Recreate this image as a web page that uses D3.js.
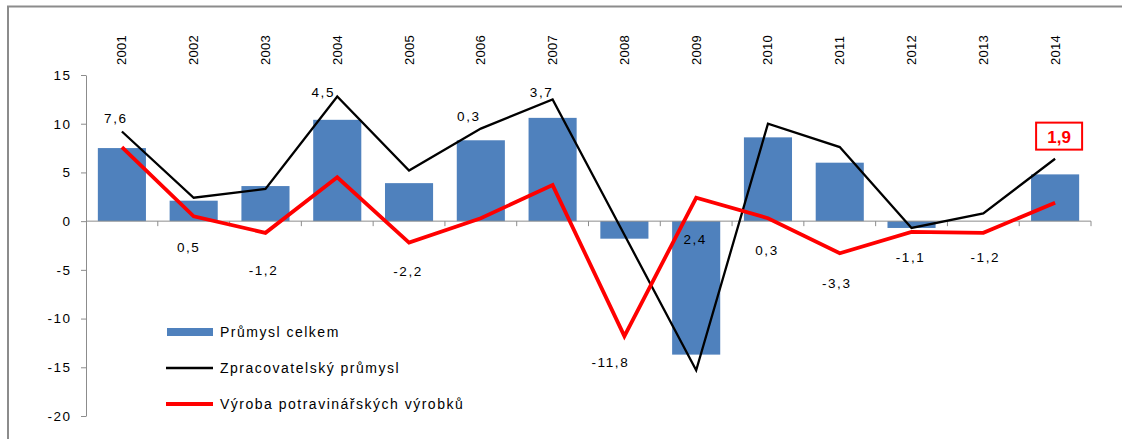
<!DOCTYPE html>
<html>
<head>
<meta charset="utf-8">
<script src="https://cdn.jsdelivr.net/npm/d3@7"></script>
<style>
  html, body { margin: 0; padding: 0; background: #fff; }
  svg { display: block; font-family: "Liberation Sans", Arial, sans-serif; }
</style>
</head>
<body>
<svg id="chart" width="1128" height="439"></svg>
<script>
// ---- data ----
const years = ["2001","2002","2003","2004","2005","2006","2007","2008","2009","2010","2011","2012","2013","2014"];
const prumyslCelkem = [7.5, 2.1, 3.6, 10.4, 3.9, 8.3, 10.6, -1.8, -13.7, 8.6, 6.0, -0.7, 0.0, 4.8];
const zpracovatelsky = [9.2, 2.4, 3.3, 12.8, 5.2, 9.5, 12.5, -1.4, -15.3, 10.0, 7.6, -0.7, 0.8, 6.4];
const potravinarske = [7.6, 0.5, -1.2, 4.5, -2.2, 0.3, 3.7, -11.8, 2.4, 0.3, -3.3, -1.1, -1.2, 1.9];
const yTicks = [15, 10, 5, 0, -5, -10, -15, -20];
const seriesNames = ["Průmysl celkem", "Zpracovatelský průmysl", "Výroba potravinářských výrobků"];

// ---- layout (pixel offsets of value labels relative to the red points) ----
const labelDy = [-29, 31, 37, -85, 28, -102, -93, 26, 41, 32, 30, 25, 24, -66];
const labelDx = [-7, -6, -3, -15, -2, -13, -12, -15, -2, -2, -4, -2, 1, 4];

const svg = d3.select("#chart");
const pL = 86, pR = 1091, pT = 75, pB = 416;

const x = d3.scaleBand().domain(years).range([pL, pR]).paddingInner(0.33).paddingOuter(0.165);
const xc = d => x(d) + x.bandwidth() / 2;
const y = d3.scaleLinear().domain([-20, 15]).range([pB, pT]);

// outer frame
svg.append("path")
  .attr("d", `M8,439 L8,6.5 L1122,6.5`)
  .attr("fill", "none").attr("stroke", "#8c8c8c").attr("stroke-width", 2);

// bars
svg.append("g").selectAll("rect").data(prumyslCelkem).join("rect")
  .attr("x", (d, i) => x(years[i]))
  .attr("width", x.bandwidth())
  .attr("y", d => y(Math.max(0, d)))
  .attr("height", d => Math.abs(y(d) - y(0)))
  .attr("fill", "#4f81bd");

// y axis
const yAxis = d3.axisLeft(y).tickValues(yTicks).tickSize(5).tickSizeOuter(0).tickFormat(d => d);
const gy = svg.append("g").attr("transform", `translate(${pL},0)`).call(yAxis);
gy.select(".domain").attr("stroke", "#8c8c8c");
gy.selectAll(".tick line").attr("stroke", "#8c8c8c");
gy.selectAll(".tick text").attr("fill", "#000").attr("font-size", 13.5).attr("x", -14.5)
  .attr("letter-spacing", "1.5px")
  .attr("font-family", "Liberation Sans, Arial, sans-serif");

// x axis at zero with ticks at category boundaries
const boundaries = d3.range(years.length + 1).map(i => pL + i * (pR - pL) / years.length);
const gx = svg.append("g");
gx.append("line").attr("x1", pL).attr("x2", pR).attr("y1", y(0)).attr("y2", y(0))
  .attr("stroke", "#8c8c8c").attr("stroke-width", 1);
gx.selectAll("line.t").data(boundaries.slice(1)).join("line").attr("class", "t")
  .attr("x1", d => d).attr("x2", d => d).attr("y1", y(0)).attr("y2", y(0) + 5)
  .attr("stroke", "#8c8c8c");

// year labels at top, rotated
svg.append("g").selectAll("text").data(years).join("text")
  .attr("transform", d => `translate(${xc(d) + 4.5},65) rotate(-90)`)
  .attr("font-size", 13).attr("fill", "#000").attr("text-anchor", "start")
  .attr("letter-spacing", "0.3px")
  .text(d => d);

// lines
const line = d3.line().x((d, i) => xc(years[i])).y(d => y(d));
svg.append("path").datum(zpracovatelsky).attr("d", line)
  .attr("fill", "none").attr("stroke", "#000").attr("stroke-width", 2.3).attr("stroke-linejoin", "miter");
svg.append("path").datum(potravinarske).attr("d", line)
  .attr("fill", "none").attr("stroke", "#ff0000").attr("stroke-width", 3.8).attr("stroke-linejoin", "miter");

// value labels
const fmt = v => d3.format(".1f")(v).replace(".", ",").replace("−", "-");
const labels = svg.append("g");
potravinarske.forEach((v, i) => {
  const px = xc(years[i]) + labelDx[i];
  const py = y(v) + labelDy[i];
  if (i === years.length - 1) {
    labels.append("rect").attr("x", px - 23).attr("y", py - 14).attr("width", 46).attr("height", 27)
      .attr("fill", "#fff").attr("stroke", "#ff0000").attr("stroke-width", 2);
    labels.append("text").attr("x", px).attr("y", py + 6).attr("text-anchor", "middle")
      .attr("font-size", 17).attr("font-weight", "bold").attr("fill", "#ff0000").text(fmt(v));
  } else {
    labels.append("text").attr("x", px + 1).attr("y", py + 5).attr("text-anchor", "middle")
      .attr("font-size", 13.5).attr("letter-spacing", "1.6px").attr("fill", "#000").text(fmt(v));
  }
});

// legend
const lg = svg.append("g");
const legY = [332, 368, 404];
lg.append("rect").attr("x", 167).attr("y", legY[0] - 4).attr("width", 46).attr("height", 8).attr("fill", "#4f81bd");
lg.append("line").attr("x1", 166).attr("x2", 213).attr("y1", legY[1]).attr("y2", legY[1]).attr("stroke", "#000").attr("stroke-width", 2.3);
lg.append("line").attr("x1", 166).attr("x2", 213).attr("y1", legY[2]).attr("y2", legY[2]).attr("stroke", "#ff0000").attr("stroke-width", 3.8);
lg.selectAll("text").data(seriesNames).join("text")
  .attr("x", 220).attr("y", (d, i) => legY[i] + 5)
  .attr("font-size", 14).attr("letter-spacing", "1.5px").attr("fill", "#000").text(d => d);
</script>
</body>
</html>
